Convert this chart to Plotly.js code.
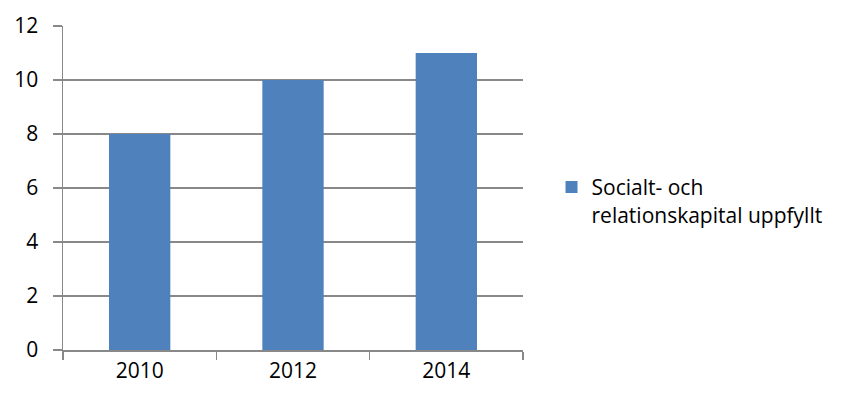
<!DOCTYPE html>
<html><head><meta charset="utf-8">
<script src="https://cdn.plot.ly/plotly-3.0.1.min.js"></script>
<style>body{margin:0;background:#fff}#c{width:847px;height:394px}</style>
</head><body><div id="c"></div>
<script>
const years = ['2010', '2012', '2014'];
const values = [8, 10, 11];
const seriesName = 'Socialt- och<br>relationskapital uppfyllt';
const yTicks = [0, 2, 4, 6, 8, 10, 12];

const gray = '#888888';
const font = {family: 'Open Sans, Liberation Sans, sans-serif', size: 21, color: '#000'};

Plotly.newPlot('c', [{
  type: 'bar', x: years, y: values, name: seriesName,
  marker: {color: '#4F81BD'}, showlegend: true, hoverinfo: 'none'
}], {
  width: 847, height: 394,
  margin: {l: 63, r: 324, t: 26, b: 44},
  paper_bgcolor: '#fff', plot_bgcolor: '#fff',
  font: font,
  bargap: 0.6,
  xaxis: {type: 'category', showline: true, linecolor: gray, linewidth: 1.5,
          ticks: 'outside', tickson: 'boundaries', ticklen: 8, tickcolor: gray, tickwidth: 1.5,
          ticklabelstandoff: 1,
          showgrid: false, zeroline: false, tickfont: font},
  yaxis: {range: [0, 12], tickvals: yTicks, showline: true, linecolor: gray, linewidth: 1.5,
          ticks: 'outside', ticklen: 9, tickcolor: gray, tickwidth: 1.5,
          ticklabelstandoff: 10,
          showgrid: true, gridcolor: gray, gridwidth: 1.5, zeroline: false, tickfont: font},
  legend: {x: 1.062, xanchor: 'left', y: 0.565, yanchor: 'top', valign: 'top', font: font,
           itemwidth: 30, bgcolor: 'rgba(0,0,0,0)'}
}, {staticPlot: true});
</script></body></html>
